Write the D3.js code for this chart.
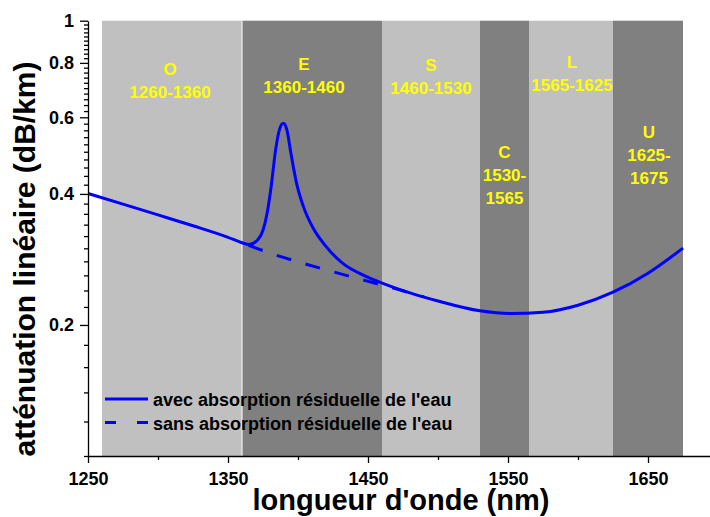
<!DOCTYPE html>
<html lang="fr">
<head>
<meta charset="UTF-8" />
<title>Atténuation de la fibre optique</title>
<script src="https://d3js.org/d3.v7.min.js"></script>
<style>
  body { margin: 0; background: #fff; }
  svg text { font-family: "Liberation Sans", Arial, sans-serif; font-weight: bold; }
</style>
</head>
<body>
<script>
    // bandes de transmission
    var bandNames = ["O", "E", "S", "C", "L", "U"];
    var bandStart = [1260, 1360, 1460, 1530, 1565, 1625];
    var bandEnd = [1360, 1460, 1530, 1565, 1625, 1675];
    var bandLines = [["O", "1260-1360"], ["E", "1360-1460"], ["S", "1460-1530"],
                     ["C", "1530-", "1565"], ["L", "1565-1625"], ["U", "1625-", "1675"]];

    // avec absorption residuelle de l'eau
    var withWl = [1250, 1275, 1300, 1325, 1350, 1360, 1365, 1371, 1375, 1378, 1381, 1384,
                  1387, 1389.5, 1392, 1395, 1399, 1404, 1411, 1420, 1432, 1447, 1461,
                  1480, 1500, 1530, 1552, 1575, 1600, 1625, 1650, 1675];
    var withVal = [0.401, 0.379, 0.358, 0.338, 0.318, 0.309, 0.306, 0.313, 0.330, 0.362, 0.420, 0.505,
                   0.565, 0.581, 0.562, 0.495, 0.423, 0.373, 0.333, 0.303, 0.277, 0.260, 0.249,
                   0.237, 0.227, 0.2155, 0.2125, 0.2139, 0.222, 0.2378, 0.263, 0.3003];

    // sans absorption residuelle de l'eau
    var withoutWl = [1360, 1382, 1404, 1425, 1447, 1470, 1490];
    var withoutVal = [0.309, 0.291, 0.277, 0.265, 0.2535, 0.242, 0.232];

    var xTicks = [1250, 1350, 1450, 1550, 1650];
    var xMinor = [1300, 1400, 1500, 1600, 1700];
    var yTicks = [0.2, 0.4, 0.6, 0.8, 1];

    var legendLabels = ["avec absorption résiduelle de l'eau", "sans absorption résiduelle de l'eau"];

    var w = 710;
    var h = 517;
    var padLeft = 88, padBottom = 456, padTop = 20.7;

    // petits decalages pour placer les etiquettes des bandes
    var labelDx = [-2, -8, 0, 0, 1, 1];
    var labelY = [75, 70, 71, 158, 68, 138];

    var x = d3.scaleLinear().domain([1250, 1700]).range([padLeft, padLeft + 630]);
    var y = d3.scaleLog().domain([0.1, 1]).range([padBottom, padTop]);

    var svg = d3.select("body").append("svg")
        .attr("width", w)
        .attr("height", h);

    // bandes
    svg.selectAll("rect.band")
        .data(bandNames)
        .enter()
        .append("rect")
        .attr("class", "band")
        .attr("x", function (d, i) { return x(bandStart[i]); })
        .attr("y", y(1))
        .attr("width", function (d, i) { return x(bandEnd[i]) - x(bandStart[i]); })
        .attr("height", y(0.1) - y(1))
        .attr("fill", function (d, i) { return i % 2 == 0 ? "#c0c0c0" : "#808080"; });

    svg.append("line")
        .attr("x1", x(1360)).attr("x2", x(1360))
        .attr("y1", y(1)).attr("y2", y(0.1))
        .attr("stroke", "#fff")
        .attr("stroke-width", 1);

    // etiquettes des bandes
    bandLines.forEach(function (lines, i) {
        var cx = x((bandStart[i] + bandEnd[i]) / 2) + labelDx[i];
        svg.selectAll(null)
            .data(lines)
            .enter()
            .append("text")
            .attr("x", cx)
            .attr("y", function (d, j) { return labelY[i] + j * 23; })
            .attr("text-anchor", "middle")
            .attr("fill", "#ffff00")
            .attr("font-size", "17px")
            .text(function (d) { return d; });
    });

    // courbes
    var line = d3.line()
        .x(function (d) { return x(d[0]); })
        .y(function (d) { return y(d[1]); })
        .curve(d3.curveMonotoneX);

    svg.append("path")
        .datum(withoutWl.map(function (d, i) { return [d, withoutVal[i]]; }))
        .attr("d", line)
        .attr("fill", "none")
        .attr("stroke", "#0000ff")
        .attr("stroke-width", 3)
        .attr("stroke-dasharray", "15,15")
        .attr("stroke-dashoffset", -7);

    svg.append("path")
        .datum(withWl.map(function (d, i) { return [d, withVal[i]]; }))
        .attr("d", line)
        .attr("fill", "none")
        .attr("stroke", "#0000ff")
        .attr("stroke-width", 3);

    // axes
    svg.append("g")
        .attr("transform", "translate(0," + padBottom + ")")
        .call(d3.axisBottom(x).tickValues(xTicks).tickFormat(d3.format("d"))
            .tickSize(7).tickSizeOuter(0).tickPadding(9));
    svg.append("g")
        .attr("transform", "translate(0," + padBottom + ")")
        .call(d3.axisBottom(x).tickValues(xMinor).tickFormat("").tickSize(4).tickSizeOuter(0))
        .select(".domain").remove();

    svg.append("g")
        .attr("transform", "translate(" + padLeft + ",0)")
        .call(d3.axisLeft(y).tickValues(yTicks).tickFormat(function (d) { return d3.format("")(d); })
            .tickSize(8).tickSizeOuter(0).tickPadding(6));
    svg.append("g")
        .attr("transform", "translate(" + padLeft + ",0)")
        .call(d3.axisLeft(y).tickValues(d3.range(5, 50).map(function (k) { return k / 50; })
                .filter(function (v) { return Math.round(v * 100) % 20 != 0; }))
            .tickFormat("").tickSize(4).tickSizeOuter(0))
        .select(".domain").remove();

    svg.selectAll(".tick text")
        .attr("font-size", "18px")
        .attr("fill", "#000");
    svg.selectAll(".domain, .tick line")
        .attr("stroke", "#000")
        .attr("stroke-width", 1.3);

    // titres des axes
    svg.append("text")
        .attr("x", 401)
        .attr("y", 510)
        .attr("text-anchor", "middle")
        .attr("font-size", "29px")
        .text("longueur d'onde (nm)");

    svg.append("text")
        .attr("transform", "translate(35,259) rotate(-90)")
        .attr("text-anchor", "middle")
        .attr("font-size", "30px")
        .text("atténuation linéaire (dB/km)");

    // legende
    var legend = svg.append("g").attr("transform", "translate(105,399)");
    legendLabels.forEach(function (label, i) {
        legend.append("line")
            .attr("x1", 0).attr("x2", 43)
            .attr("y1", i * 23.5).attr("y2", i * 23.5)
            .attr("stroke", "#0000ff")
            .attr("stroke-width", 3)
            .attr("stroke-dasharray", i == 0 ? null : "11,21");
        legend.append("text")
            .attr("x", 48)
            .attr("y", i * 23.5 + 7)
            .attr("font-size", "18px")
            .attr("fill", "#000")
            .text(label);
    });
</script>
</body>
</html>
